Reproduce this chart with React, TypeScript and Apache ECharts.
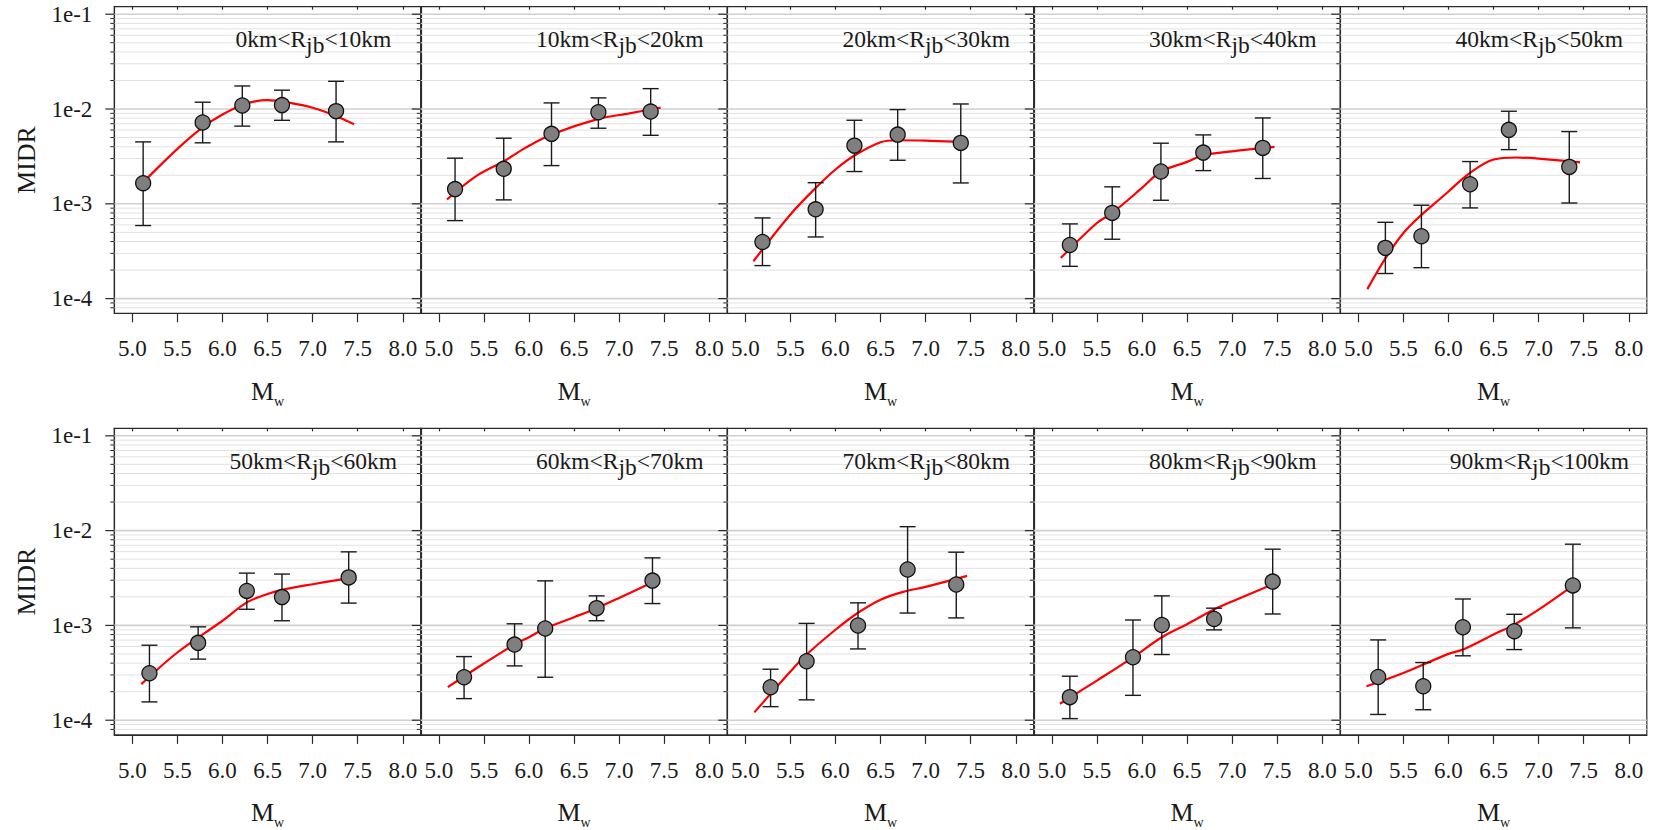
import React, { useEffect, useRef } from 'react';
import * as echarts from 'echarts';

// ---------- data ----------
const binLow = [0, 10, 20, 30, 40, 50, 60, 70, 80, 90];
const binHigh = [10, 20, 30, 40, 50, 60, 70, 80, 90, 100];

const xTicks = [5.0, 5.5, 6.0, 6.5, 7.0, 7.5, 8.0];
const yDecades = [1e-4, 1e-3, 1e-2, 1e-1];

const pointMw = [
  [5.12, 5.78, 6.22, 6.66, 7.26],
  [5.18, 5.72, 6.25, 6.77, 7.35],
  [5.19, 5.78, 6.21, 6.69, 7.39],
  [5.2, 5.67, 6.21, 6.68, 7.34],
  [5.3, 5.7, 6.24, 6.67, 7.34],
  [5.19, 5.73, 6.27, 6.66, 7.4],
  [5.28, 5.84, 6.18, 6.75, 7.37],
  [5.28, 5.68, 6.25, 6.8, 7.34],
  [5.2, 5.9, 6.22, 6.8, 7.45],
  [5.22, 5.72, 6.16, 6.73, 7.38],
];
const pointMidr = [
  [1.65e-3, 7.2e-3, 1.09e-2, 1.1e-2, 9.5e-3],
  [1.43e-3, 2.34e-3, 5.47e-3, 9.25e-3, 9.4e-3],
  [3.96e-4, 8.75e-4, 4.11e-3, 5.37e-3, 4.39e-3],
  [3.68e-4, 8.02e-4, 2.19e-3, 3.47e-3, 3.89e-3],
  [3.43e-4, 4.55e-4, 1.61e-3, 6.03e-3, 2.45e-3],
  [3.13e-4, 6.55e-4, 2.31e-3, 1.99e-3, 3.21e-3],
  [2.84e-4, 6.28e-4, 9.27e-4, 1.52e-3, 2.97e-3],
  [2.23e-4, 4.19e-4, 9.97e-4, 3.89e-3, 2.7e-3],
  [1.75e-4, 4.61e-4, 1.01e-3, 1.17e-3, 2.9e-3],
  [2.86e-4, 2.28e-4, 9.57e-4, 8.69e-4, 2.64e-3],
];
const errLow = [
  [5.9e-4, 4.4e-3, 6.6e-3, 7.6e-3, 4.5e-3],
  [6.65e-4, 1.1e-3, 2.53e-3, 6.27e-3, 5.28e-3],
  [2.23e-4, 4.47e-4, 2.19e-3, 2.88e-3, 1.66e-3],
  [2.19e-4, 4.23e-4, 1.09e-3, 2.24e-3, 1.85e-3],
  [1.84e-4, 2.12e-4, 9.05e-4, 3.73e-3, 1.02e-3],
  [1.56e-4, 4.41e-4, 1.48e-3, 1.12e-3, 1.72e-3],
  [1.69e-4, 3.74e-4, 2.84e-4, 1.12e-3, 1.7e-3],
  [1.39e-4, 1.64e-4, 5.65e-4, 1.35e-3, 1.2e-3],
  [1.04e-4, 1.83e-4, 4.93e-4, 8.97e-4, 1.32e-3],
  [1.15e-4, 1.29e-4, 4.78e-4, 5.56e-4, 9.42e-4],
];
const errHigh = [
  [4.5e-3, 1.18e-2, 1.75e-2, 1.58e-2, 1.96e-2],
  [3.03e-3, 4.92e-3, 1.16e-2, 1.31e-2, 1.64e-2],
  [7.1e-4, 1.67e-3, 7.61e-3, 9.86e-3, 1.13e-2],
  [6.14e-4, 1.51e-3, 4.36e-3, 5.33e-3, 8.05e-3],
  [6.38e-4, 9.66e-4, 2.79e-3, 9.47e-3, 5.78e-3],
  [6.18e-4, 9.66e-4, 3.56e-3, 3.48e-3, 5.97e-3],
  [4.69e-4, 1.04e-3, 2.95e-3, 2.05e-3, 5.16e-3],
  [3.45e-4, 1.05e-3, 1.73e-3, 1.1e-2, 5.92e-3],
  [2.91e-4, 1.14e-3, 2.05e-3, 1.52e-3, 6.37e-3],
  [7.03e-4, 4.06e-4, 1.9e-3, 1.31e-3, 7.19e-3],
];
const fitMw = [
  [5.15, 5.5, 5.78, 6.0, 6.25, 6.5, 6.75, 7.0, 7.25, 7.46],
  [5.09, 5.41, 5.72, 5.96, 6.25, 6.77, 7.1, 7.46],
  [5.09, 5.5, 5.78, 6.0, 6.21, 6.5, 6.69, 7.0, 7.32],
  [5.1, 5.5, 5.67, 6.0, 6.21, 6.5, 6.68, 7.0, 7.47],
  [5.1, 5.5, 6.0, 6.24, 6.5, 6.75, 7.0, 7.46],
  [5.1, 5.5, 6.0, 6.27, 6.5, 6.66, 7.0, 7.34],
  [5.1, 5.5, 5.84, 6.0, 6.18, 6.5, 6.75, 7.0, 7.44],
  [5.1, 5.5, 5.68, 6.0, 6.25, 6.5, 6.75, 7.0, 7.46],
  [5.09, 5.5, 5.9, 6.22, 6.5, 6.8, 7.0, 7.4],
  [5.09, 5.5, 6.0, 6.16, 6.5, 6.73, 7.0, 7.32],
];
const fitMidr = [
  [1.8e-3, 3.8e-3, 6.4e-3, 8.75e-3, 1.13e-2, 1.24e-2, 1.16e-2, 1.03e-2, 8.5e-3, 6.9e-3],
  [1.11e-3, 1.95e-3, 2.81e-3, 3.89e-3, 5.38e-3, 7.87e-3, 8.95e-3, 1.035e-2],
  [2.48e-4, 7.7e-4, 1.47e-3, 2.3e-3, 3.23e-3, 4.46e-3, 4.68e-3, 4.65e-3, 4.53e-3],
  [2.69e-4, 6.28e-4, 8.02e-4, 1.47e-3, 2.19e-3, 2.77e-3, 3.25e-3, 3.58e-3, 3.98e-3],
  [1.26e-4, 4.93e-4, 1.35e-3, 2.12e-3, 2.93e-3, 3.08e-3, 3.0e-3, 2.74e-3],
  [2.4e-4, 5.18e-4, 1.12e-3, 1.75e-3, 2.14e-3, 2.37e-3, 2.72e-3, 3.08e-3],
  [2.23e-4, 3.96e-4, 6.28e-4, 7.5e-4, 9.27e-4, 1.22e-3, 1.52e-3, 1.95e-3, 3.07e-3],
  [1.21e-4, 3.26e-4, 4.93e-4, 9.0e-4, 1.36e-3, 1.87e-3, 2.26e-3, 2.55e-3, 3.33e-3],
  [1.49e-4, 2.62e-4, 4.61e-4, 7.5e-4, 1.03e-3, 1.47e-3, 1.79e-3, 2.59e-3],
  [2.28e-4, 3.15e-4, 5.01e-4, 5.56e-4, 8.02e-4, 1.02e-3, 1.47e-3, 2.39e-3],
];

// ---------- layout / style ----------
const X_MIN = 4.8;
const X_MAX = 8.2;
const Y_MIN = 7e-5;
const Y_MAX = 0.12;
const GRID_LEFT0 = 114.3;
const GRID_W = 306.5;
const GRID_H = 306.6;
const ROW_TOPS = [6.7, 428.3];
const FONT = 'Liberation Serif';
const INK = '#1a1a1a';
const AXIS_COLOR = '#2a2a2a';

// gridline levels of the log axis: [value, isMajor]
const yLevels: number[][] = [];
for (let k = -5; k <= -1; k++) {
  for (let m = 1; m <= 9; m++) {
    const v = m * Math.pow(10, k);
    if (v > Y_MIN * 1.001 && v < Y_MAX * 0.999) yLevels.push([v, m === 1 ? 1 : 0]);
  }
}

function measure(text: string, size: number): number {
  const c = document.createElement('canvas').getContext('2d');
  if (!c) return text.length * size * 0.5;
  c.font = `${size}px "Liberation Serif"`;
  return c.measureText(text).width;
}

function isDecade(v: number): boolean {
  const l = Math.log10(v);
  return Math.abs(l - Math.round(l)) < 1e-6;
}

export default function App() {
  const ref = useRef<HTMLDivElement>(null);

  useEffect(() => {
    if (!ref.current) return;
    const chart = echarts.init(ref.current, null, { renderer: 'svg', width: 1657, height: 830 });

    const grids: any[] = [];
    const xAxes: any[] = [];
    const yAxes: any[] = [];
    const series: any[] = [];
    const graphics: any[] = [];
    const axisLineStyle = { color: AXIS_COLOR, width: 1.2 };

    for (let i = 0; i < 10; i++) {
      const row = Math.floor(i / 5);
      const col = i % 5;
      const left = GRID_LEFT0 + col * GRID_W;
      const top = ROW_TOPS[row];

      grids.push({
        left, top, width: GRID_W, height: GRID_H,
        show: true, borderColor: AXIS_COLOR, borderWidth: 1.2, backgroundColor: 'transparent',
        containLabel: false, outerBoundsMode: 'none',
      });

      xAxes.push({
        type: 'value', gridIndex: i, position: 'bottom', min: X_MIN, max: X_MAX,
        axisLine: { show: true, onZero: false, lineStyle: axisLineStyle },
        axisTick: { show: true, inside: false, length: 9, customValues: xTicks, lineStyle: axisLineStyle },
        axisLabel: {
          show: true, customValues: xTicks, formatter: (v: number) => v.toFixed(1),
          margin: 24, fontSize: 23, fontFamily: FONT, color: INK,
          showMinLabel: true, showMaxLabel: true, hideOverlap: false,
        },
        splitLine: { show: false },
      });
      xAxes.push({
        type: 'value', gridIndex: i, position: 'top', min: X_MIN, max: X_MAX,
        axisLine: { show: true, onZero: false, lineStyle: axisLineStyle },
        axisTick: { show: true, inside: true, length: 3, customValues: xTicks, lineStyle: axisLineStyle },
        axisLabel: { show: false },
        splitLine: { show: false },
      });

      yAxes.push({
        type: 'log', logBase: 10, gridIndex: i, position: 'left', min: Y_MIN, max: Y_MAX,
        axisLine: { show: true, onZero: false, lineStyle: axisLineStyle },
        axisTick: { show: false },
        axisLabel: {
          show: col === 0, customValues: yDecades,
          formatter: (v: number) => (isDecade(v) ? '1e' + Math.round(Math.log10(v)) : ''),
          margin: 22, fontSize: 23, fontFamily: FONT, color: INK, hideOverlap: false,
        },
        splitLine: { show: false },
      });

      // horizontal log gridlines and left ticks, placed through the log axis
      series.push({
        type: 'custom',
        xAxisIndex: 2 * i, yAxisIndex: i,
        data: yLevels.map(([v, major]) => [X_MIN, v, major]),
        encode: { x: 0, y: 1 },
        clip: false, z: 1, silent: true,
        renderItem: (params: any, api: any) => {
          const v = api.value(1);
          const major = api.value(2) === 1;
          const p0 = api.coord([X_MIN, v]);
          const p1 = api.coord([X_MAX, v]);
          const tl = major ? 9 : 4;
          return {
            type: 'group',
            children: [
              {
                type: 'line', shape: { x1: p0[0], y1: p0[1], x2: p1[0], y2: p1[1] },
                style: { stroke: major ? '#d0d0d0' : '#e2e2e2', lineWidth: major ? 1.6 : 1 },
              },
              {
                type: 'line', shape: { x1: p0[0] - tl, y1: p0[1], x2: p0[0], y2: p0[1] },
                style: { stroke: AXIS_COLOR, lineWidth: major ? 1.2 : 1 },
              },
            ],
          };
        },
      });

      series.push({
        type: 'line',
        xAxisIndex: 2 * i, yAxisIndex: i,
        data: fitMw[i].map((x, j) => [x, fitMidr[i][j]]),
        smooth: 0.35, showSymbol: false, symbol: 'none',
        lineStyle: { color: '#ff0000', width: 2.2 },
        z: 3, silent: true,
      });

      series.push({
        type: 'custom',
        xAxisIndex: 2 * i, yAxisIndex: i,
        data: pointMw[i].map((x, j) => [x, pointMidr[i][j], errLow[i][j], errHigh[i][j]]),
        encode: { x: 0, y: [1, 2, 3] },
        z: 4, silent: true,
        renderItem: (params: any, api: any) => {
          const x = api.value(0);
          const pLo = api.coord([x, api.value(2)]);
          const pHi = api.coord([x, api.value(3)]);
          const hw = 8;
          const st = { stroke: INK, lineWidth: 1.4, fill: 'none' };
          return {
            type: 'group',
            children: [
              { type: 'line', shape: { x1: pLo[0], y1: pLo[1], x2: pHi[0], y2: pHi[1] }, style: st },
              { type: 'line', shape: { x1: pHi[0] - hw, y1: pHi[1], x2: pHi[0] + hw, y2: pHi[1] }, style: st },
              { type: 'line', shape: { x1: pLo[0] - hw, y1: pLo[1], x2: pLo[0] + hw, y2: pLo[1] }, style: st },
            ],
          };
        },
      });

      series.push({
        type: 'scatter',
        xAxisIndex: 2 * i, yAxisIndex: i,
        data: pointMw[i].map((x, j) => [x, pointMidr[i][j]]),
        symbol: 'circle', symbolSize: 15,
        itemStyle: { color: '#7f7f7f', borderColor: '#111111', borderWidth: 1.3, opacity: 1 },
        z: 5, silent: true,
      });

      // panel title with subscript
      const tSize = 23.5;
      const parts = [`${binLow[i]}km<R`, 'jb', `<${binHigh[i]}km`];
      const widths = parts.map((p) => measure(p, tSize));
      const total = widths[0] + widths[1] + widths[2];
      let tx = left + 199 - total / 2;
      const ty = top + 32.2;
      parts.forEach((p, k) => {
        graphics.push({
          type: 'text', x: tx, y: k === 1 ? ty + 6.3 : ty, silent: true, z: 10,
          style: {
            text: p, fontSize: tSize, fontFamily: FONT, fill: INK,
            align: 'left', verticalAlign: 'middle', textAlign: 'left', textVerticalAlign: 'middle',
          },
        });
        tx += widths[k];
      });

      // x axis name M_w
      const wM = measure('M', 26);
      const ww = measure('w', 14);
      const mx = left + GRID_W / 2 - (wM + ww) / 2;
      graphics.push({
        type: 'text', x: mx, y: top + 384.5, silent: true,
        style: { text: 'M', fontSize: 26, fontFamily: FONT, fill: INK, align: 'left', verticalAlign: 'middle', textAlign: 'left', textVerticalAlign: 'middle' },
      });
      graphics.push({
        type: 'text', x: mx + wM, y: top + 394.6, silent: true,
        style: { text: 'w', fontSize: 14, fontFamily: FONT, fill: INK, align: 'left', verticalAlign: 'middle', textAlign: 'left', textVerticalAlign: 'middle' },
      });

      if (col === 0) {
        graphics.push({
          type: 'text', x: 26, y: top + GRID_H / 2, rotation: Math.PI / 2, silent: true,
          style: { text: 'MIDR', fontSize: 26, fontFamily: FONT, fill: INK, align: 'center', verticalAlign: 'middle', textAlign: 'center', textVerticalAlign: 'middle' },
        });
      }
    }

    chart.setOption({
      animation: false,
      backgroundColor: '#ffffff',
      textStyle: { fontFamily: FONT },
      grid: grids,
      xAxis: xAxes,
      yAxis: yAxes,
      series,
      graphic: { elements: graphics },
    });

    return () => chart.dispose();
  }, []);

  return (
    <div
      ref={ref}
      style={{ position: 'fixed', left: 0, top: 0, width: 1657, height: 830, background: '#fff' }}
    />
  );
}
